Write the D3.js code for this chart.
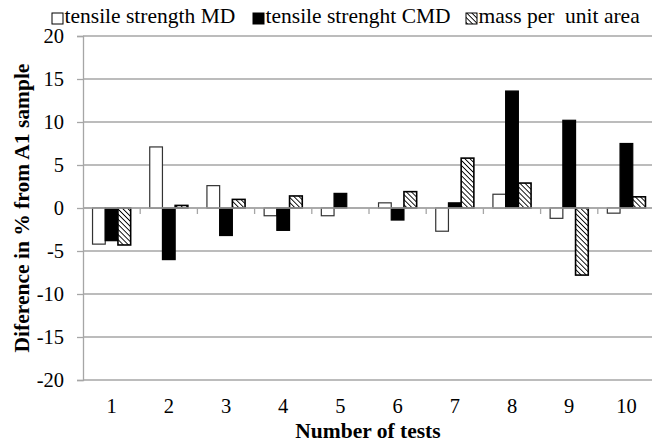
<!DOCTYPE html>
<html>
<head>
<meta charset="utf-8">
<script src="https://cdn.jsdelivr.net/npm/d3@7"></script>
<style>
  body { margin: 0; background: #fff; }
</style>
</head>
<body>
<div id="chart"></div>
<script>
// data
const tests = ["1", "2", "3", "4", "5", "6", "7", "8", "9", "10"];
const seriesNames = ["tensile strength MD", "tensile strenght CMD", "mass per  unit area"];
const tensileMD = [-4.2, 7.1, 2.6, -0.9, -0.9, 0.6, -2.7, 1.6, -1.2, -0.6];
const tensileCMD = [-3.8, -6.0, -3.2, -2.6, 1.7, -1.4, 0.6, 13.6, 10.2, 7.5];
const massArea = [-4.3, 0.3, 1.0, 1.4, 0, 1.9, 5.8, 2.9, -7.8, 1.3];
const yTicks = [-20, -15, -10, -5, 0, 5, 10, 15, 20];

const width = 652, height = 446;
const margin = { top: 36, right: -3, bottom: 66, left: 83 };
const serif = '"Liberation Serif", "Times New Roman", serif';

const svg = d3.select("#chart").append("svg")
    .attr("width", width).attr("height", height);

// hatch pattern for third series
const defs = svg.append("defs");
const pat = defs.append("pattern")
    .attr("id", "hatch").attr("patternUnits", "userSpaceOnUse")
    .attr("width", 3.6).attr("height", 3.6)
    .attr("patternTransform", "rotate(-45)");
pat.append("rect").attr("width", 3.6).attr("height", 3.6).attr("fill", "#fff");
pat.append("line").attr("x1", 0).attr("y1", 0).attr("x2", 0).attr("y2", 3.6)
    .attr("stroke", "#000").attr("stroke-width", 1.8);

const x = d3.scaleBand().domain(tests)
    .range([margin.left, width - margin.right]);
const x1 = d3.scaleBand().domain([0, 1, 2])
    .range([0, x.bandwidth()]).paddingOuter(0.75).paddingInner(0);
const y = d3.scaleLinear().domain([-20, 20])
    .range([height - margin.bottom, margin.top]);

// gridlines
svg.append("g").selectAll("line").data(yTicks).join("line")
    .attr("x1", margin.left).attr("x2", width)
    .attr("y1", d => y(d)).attr("y2", d => y(d))
    .attr("stroke", "#a6a6a6").attr("stroke-width", 1.3);

// y axis
const yAxis = svg.append("g")
    .attr("transform", `translate(${margin.left},0)`)
    .call(d3.axisLeft(y).tickValues(yTicks).tickSize(6).tickPadding(13).tickFormat(d => String(d)));
yAxis.select(".domain").attr("stroke", "#a6a6a6").attr("stroke-width", 1.3);
yAxis.selectAll(".tick line").attr("stroke", "#a6a6a6").attr("stroke-width", 1.3);
yAxis.selectAll("text").attr("fill", "#000")
    .style("font-family", serif).style("font-size", "20.5px");

// bars
const series = [tensileMD, tensileCMD, massArea];
const fills = ["#fff", "#000", "url(#hatch)"];
series.forEach((vals, si) => {
  svg.append("g").selectAll("rect").data(vals).join("rect")
      .attr("x", (d, i) => x(tests[i]) + x1(si))
      .attr("width", x1.bandwidth())
      .attr("y", d => y(Math.max(0, d)))
      .attr("height", d => Math.abs(y(d) - y(0)))
      .attr("fill", fills[si])
      .attr("stroke", d => d === 0 ? "none" : (si === 0 ? "#333" : "#000"))
      .attr("stroke-width", si === 2 ? 1.6 : 1.2);
});

// x axis at zero with tick marks between categories
const zeroY = y(0);
svg.append("line")
    .attr("x1", margin.left).attr("x2", width)
    .attr("y1", zeroY).attr("y2", zeroY)
    .attr("stroke", "#a6a6a6").attr("stroke-width", 1.3);
svg.append("g").selectAll("line").data(tests.slice(1)).join("line")
    .attr("x1", d => x(d)).attr("x2", d => x(d))
    .attr("y1", zeroY).attr("y2", zeroY + 6)
    .attr("stroke", "#a6a6a6").attr("stroke-width", 1.3);

// category labels below plot
svg.append("g").selectAll("text").data(tests).join("text")
    .attr("x", d => x(d) + x.bandwidth() / 2)
    .attr("y", 413)
    .attr("text-anchor", "middle")
    .style("font-family", serif).style("font-size", "20.5px")
    .text(d => d);

// axis titles
svg.append("text")
    .attr("x", 368).attr("y", 438)
    .attr("text-anchor", "middle")
    .style("font-family", serif).style("font-size", "21.5px").style("font-weight", "bold")
    .text("Number of tests");
svg.append("text")
    .attr("transform", `translate(29,${y(0)}) rotate(-90)`)
    .attr("text-anchor", "middle")
    .style("font-family", serif).style("font-size", "21.5px").style("font-weight", "bold")
    .text("Diference in % from A1 sample");

// legend
const legendX = [52, 253, 466];
const legend = svg.append("g");
seriesNames.forEach((name, i) => {
  legend.append("rect")
      .attr("x", legendX[i]).attr("y", 13)
      .attr("width", 11).attr("height", 11)
      .attr("fill", fills[i])
      .attr("stroke", "#000").attr("stroke-width", 1);
  legend.append("text")
      .attr("x", legendX[i] + 12.5).attr("y", 23)
      .style("font-family", serif).style("font-size", "21.5px")
      .style("white-space", "pre")
      .text(name);
});
</script>
</body>
</html>
